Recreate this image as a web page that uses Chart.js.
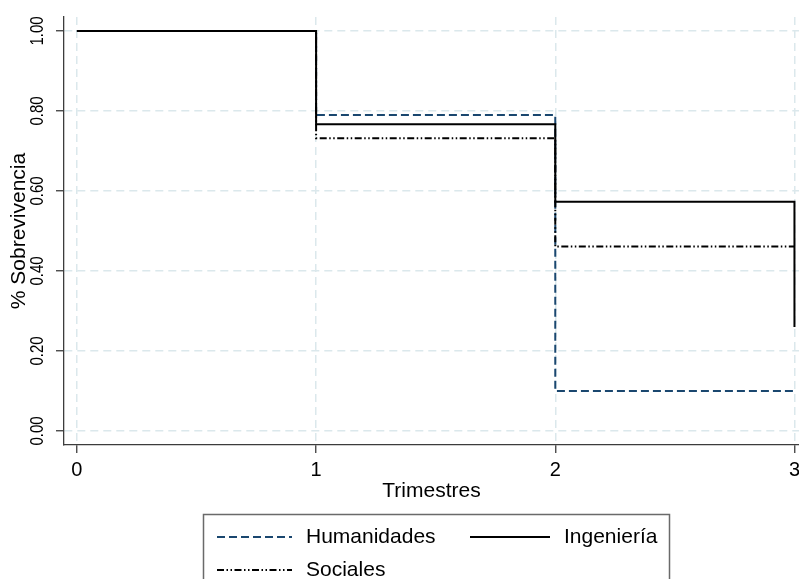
<!DOCTYPE html>
<html>
<head>
<meta charset="utf-8">
<script src="https://cdn.jsdelivr.net/npm/chart.js@4/dist/chart.umd.min.js"></script>
<style>
  html, body { margin: 0; padding: 0; background: #ffffff; overflow: hidden; }
  #wrap { width: 799px; height: 579px; }
</style>
</head>
<body>
<div id="wrap"><canvas id="km" width="799" height="579"></canvas></div>
<script>
// Kaplan-Meier survival estimates by area (quarters since enrolment)
const times = [0, 1, 2, 3];
const humanidades = [1.00, 0.79, 0.10, 0.10];
const ingenieria = [1.00, 0.767, 0.573, 0.26];
const sociales = [1.00, 0.732, 0.461, 0.461];

const seriesNames = ['Humanidades', 'Ingeniería', 'Sociales'];
const xTicks = [0, 1, 2, 3];
const yTicks = [0, 0.2, 0.4, 0.6, 0.8, 1.0];
const yTickLabels = ['0.00', '0.20', '0.40', '0.60', '0.80', '1.00'];
const xTitle = 'Trimestres';
const yTitle = '% Sobrevivencia';

const FONT = "'Liberation Sans', Arial, Helvetica, sans-serif";
const GRID = '#dbe8ec';
const AXIS = '#3c3c3c';

const toPoints = (vals) => times.map((t, i) => ({ x: t, y: vals[i] }));

// Rotated y tick labels, Stata style
const yLabelsPlugin = {
  id: 'yLabels',
  afterDraw(chart) {
    const { ctx } = chart;
    const y = chart.scales.y;
    ctx.save();
    ctx.fillStyle = '#000';
    ctx.font = '15px ' + FONT;
    ctx.textAlign = 'center';
    ctx.textBaseline = 'middle';
    yTicks.forEach((v, i) => {
      const py = y.getPixelForValue(v);
      ctx.save();
      ctx.translate(38, py);
      ctx.rotate(-Math.PI / 2);
      ctx.scale(1, 1.2);
      ctx.fillText(yTickLabels[i], 0, 0);
      ctx.restore();
    });
    ctx.restore();
  }
};

// Boxed legend under the x-axis title
const legendPlugin = {
  id: 'boxLegend',
  afterDraw(chart) {
    const { ctx } = chart;
    const slots = [
      { x0: 217, x1: 292, ly: 537, tx: 306, ty: 543 },
      { x0: 470, x1: 550, ly: 537, tx: 564, ty: 543 },
      { x0: 217, x1: 292, ly: 570, tx: 306, ty: 576 }
    ];
    ctx.save();
    ctx.strokeStyle = '#6a6a6a';
    ctx.lineWidth = 1.5;
    ctx.strokeRect(203.5, 514.5, 466, 90);
    chart.data.datasets.forEach((ds, i) => {
      const s = slots[i];
      ctx.save();
      ctx.strokeStyle = ds.borderColor;
      ctx.lineWidth = ds.borderWidth;
      ctx.setLineDash(ds.borderDash || []);
      ctx.beginPath();
      ctx.moveTo(s.x0, s.ly);
      ctx.lineTo(s.x1, s.ly);
      ctx.stroke();
      ctx.restore();
      ctx.fillStyle = '#000';
      ctx.font = '21px ' + FONT;
      ctx.textAlign = 'left';
      ctx.textBaseline = 'alphabetic';
      ctx.fillText(ds.label, s.tx, s.ty);
    });
    ctx.restore();
  }
};

new Chart(document.getElementById('km'), {
  type: 'line',
  data: {
    datasets: [
      {
        label: seriesNames[0],
        data: toPoints(humanidades),
        borderColor: '#1a476f',
        borderWidth: 2,
        borderDash: [8, 4],
        order: 3
      },
      {
        label: seriesNames[1],
        data: toPoints(ingenieria),
        borderColor: '#000000',
        borderWidth: 2,
        borderDash: [],
        order: 2
      },
      {
        label: seriesNames[2],
        data: toPoints(sociales),
        borderColor: '#000000',
        borderWidth: 2,
        borderDash: [7, 2.5, 1.5, 2.5, 1.5, 2.5],
        order: 1
      }
    ]
  },
  options: {
    responsive: false,
    animation: false,
    devicePixelRatio: 1,
    layout: { padding: { top: 17, right: 0, bottom: 73, left: 0 } },
    elements: {
      line: { stepped: 'before', tension: 0, fill: false },
      point: { radius: 0, hoverRadius: 0 }
    },
    plugins: {
      legend: { display: false },
      tooltip: { enabled: false }
    },
    scales: {
      x: {
        type: 'linear',
        min: -0.054,
        max: 3.019,
        afterBuildTicks(scale) { scale.ticks = xTicks.map(v => ({ value: v })); },
        afterFit(scale) { scale.height = 61; scale.paddingLeft = 0; scale.paddingRight = 0; },
        ticks: {
          color: '#000',
          font: { family: FONT, size: 20 },
          padding: 5,
          maxRotation: 0,
          callback: (v) => String(v)
        },
        grid: {
          color: GRID,
          lineWidth: 1.5,
          tickLength: 8,
          tickColor: AXIS,
          tickWidth: 1.3
        },
        border: { display: true, color: AXIS, width: 1.3, dash: [8, 5] },
        title: {
          display: true,
          text: xTitle,
          color: '#000',
          font: { family: FONT, size: 21 },
          padding: { top: 0, bottom: 2 }
        }
      },
      y: {
        type: 'linear',
        min: -0.035,
        max: 1.035,
        afterBuildTicks(scale) { scale.ticks = yTicks.map(v => ({ value: v })); },
        afterFit(scale) { scale.width = 64; scale.paddingTop = 0; scale.paddingBottom = 0; },
        ticks: { display: false },
        grid: {
          color: GRID,
          lineWidth: 1.5,
          tickLength: 8,
          tickColor: AXIS,
          tickWidth: 1.3
        },
        border: { display: true, color: AXIS, width: 1.3, dash: [8, 5] },
        title: {
          display: true,
          text: yTitle,
          color: '#000',
          font: { family: FONT, size: 21 },
          padding: { top: 7, bottom: 0 }
        }
      }
    }
  },
  plugins: [yLabelsPlugin, legendPlugin]
});
</script>
</body>
</html>
